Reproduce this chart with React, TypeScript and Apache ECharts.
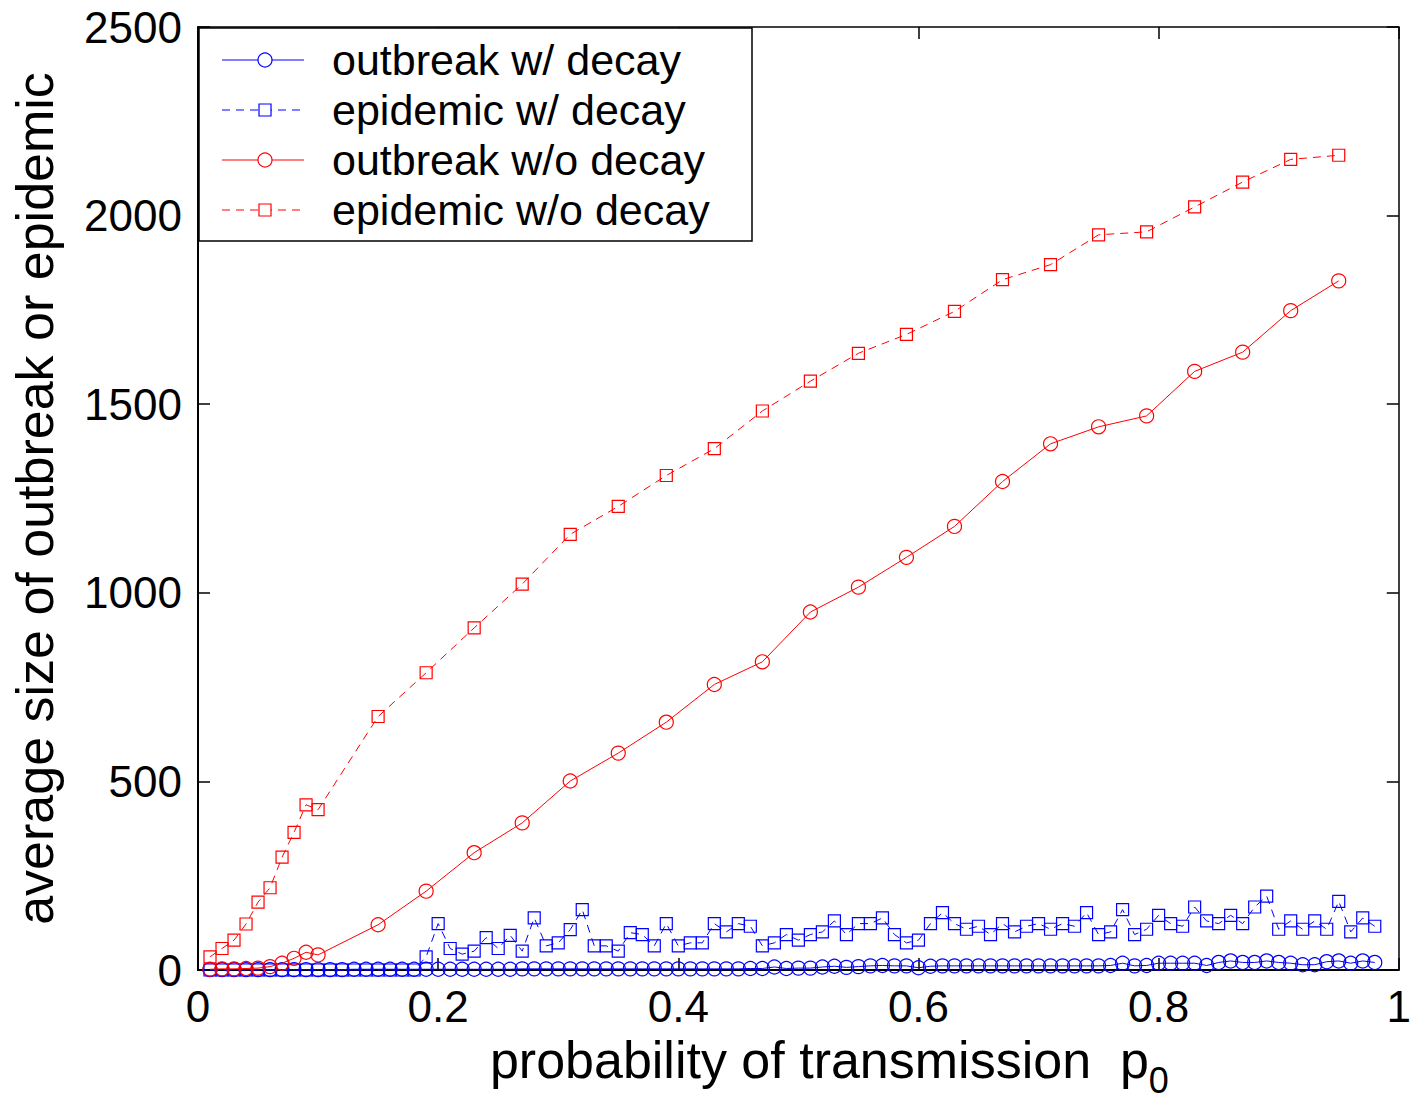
import React, { useEffect, useRef } from "react";
import * as echarts from "echarts";

// probability of transmission for the "with decay" runs
const pDecay = [
  0.01, 0.02, 0.03, 0.04, 0.05, 0.06, 0.07, 0.08, 0.09, 0.1,
  0.11, 0.12, 0.13, 0.14, 0.15, 0.16, 0.17, 0.18, 0.19, 0.2,
  0.21, 0.22, 0.23, 0.24, 0.25, 0.26, 0.27, 0.28, 0.29, 0.3,
  0.31, 0.32, 0.33, 0.34, 0.35, 0.36, 0.37, 0.38, 0.39, 0.4,
  0.41, 0.42, 0.43, 0.44, 0.45, 0.46, 0.47, 0.48, 0.49, 0.5,
  0.51, 0.52, 0.53, 0.54, 0.55, 0.56, 0.57, 0.58, 0.59, 0.6,
  0.61, 0.62, 0.63, 0.64, 0.65, 0.66, 0.67, 0.68, 0.69, 0.7,
  0.71, 0.72, 0.73, 0.74, 0.75, 0.76, 0.77, 0.78, 0.79, 0.8,
  0.81, 0.82, 0.83, 0.84, 0.85, 0.86, 0.87, 0.88, 0.89, 0.9,
  0.91, 0.92, 0.93, 0.94, 0.95, 0.96, 0.97, 0.98,
];

const outbreakDecay = [
  1, 1, 1, 1, 1, 1, 1, 1, 1, 1,
  1, 1, 2, 2, 2, 2, 2, 2, 2, 2,
  2, 2, 2, 2, 2, 2, 3, 3, 3, 3,
  3, 3, 3, 3, 3, 3, 3, 3, 3, 3,
  3, 3, 3, 3, 3, 4, 4, 8, 4, 5,
  5, 8, 10, 7, 9, 11, 12, 11, 11, 6,
  10, 11, 11, 11, 11, 11, 11, 11, 11, 11,
  11, 11, 11, 11, 11, 12, 18, 11, 12, 18,
  18, 18, 18, 12, 20, 24, 20, 20, 24, 20,
  18, 14, 14, 22, 24, 18, 24, 20,
];

const epidemicDecay = [
  0, 0, 0, 0, 0, 0, 0, 0, 0, 0,
  0, 0, 0, 0, 0, 0, 0, 0, 35, 123,
  57, 42, 50, 86, 57, 92, 50, 138, 64, 72,
  107, 160, 64, 64, 50, 99, 94, 64, 123, 64,
  72, 72, 123, 101, 123, 116, 64, 72, 94, 79,
  94, 101, 130, 94, 123, 123, 138, 94, 72, 79,
  123, 152, 123, 108, 116, 94, 123, 101, 116, 123,
  108, 123, 116, 152, 94, 101, 160, 94, 108, 145,
  123, 116, 167, 130, 123, 145, 123, 167, 196, 108,
  130, 108, 130, 108, 182, 101, 138, 116,
];

// probability of transmission for the "without decay" runs
const pNoDecay = [
  0.01, 0.02, 0.03, 0.04, 0.05, 0.06, 0.07, 0.08, 0.09, 0.1,
  0.15, 0.19, 0.23, 0.27, 0.31, 0.35, 0.39, 0.43, 0.47, 0.51,
  0.55, 0.59, 0.63, 0.67, 0.71, 0.75, 0.79, 0.83, 0.87, 0.91, 0.95,
];

const outbreakNoDecay = [
  2, 3, 3, 4, 5, 9, 18, 31, 47, 40,
  120, 209, 311, 390, 501, 575, 657, 757, 817, 949,
  1015, 1094, 1176, 1295, 1395, 1440, 1469, 1587, 1638, 1748, 1827,
];

const epidemicNoDecay = [
  35, 57, 79, 122, 180, 218, 299, 365, 438, 425,
  672, 788, 907, 1023, 1155, 1229, 1311, 1382, 1482, 1561,
  1635, 1685, 1746, 1830, 1870, 1949, 1957, 2023, 2089, 2149, 2160,
];

const xTicks = [0, 0.2, 0.4, 0.6, 0.8, 1];
const yTicks = [0, 500, 1000, 1500, 2000, 2500];

const legendNames = [
  "outbreak w/ decay",
  "epidemic w/ decay",
  "outbreak w/o decay",
  "epidemic w/o decay",
];

const FONT = '"Liberation Sans", Arial, sans-serif';
const BLUE = "#0000ff";
const RED = "#ff0000";

function zip(xs: number[], ys: number[]) {
  return xs.map((x, i) => [x, ys[i]]);
}

export default function App() {
  const ref = useRef<HTMLDivElement>(null);

  useEffect(() => {
    if (!ref.current) return;
    const chart = echarts.init(ref.current, null, { renderer: "svg" });

    const mkSeries = (
      name: string,
      xs: number[],
      ys: number[],
      color: string,
      symbol: string,
      size: number,
      dashed: boolean,
      z: number
    ) => ({
      name,
      type: "line",
      data: zip(xs, ys),
      symbol,
      symbolSize: size,
      showAllSymbol: true,
      clip: false,
      z,
      lineStyle: { color, width: 1, type: dashed ? [8, 6] : "solid" },
      itemStyle: { color: "rgba(0,0,0,0)", borderColor: color, borderWidth: 1.2 },
      emphasis: { disabled: true },
    });

    const legendChildren: any[] = [
      {
        type: "rect",
        shape: { x: 199, y: 28, width: 553, height: 213 },
        style: { fill: "#fff", stroke: "#000", lineWidth: 1.5 },
        z: 100,
      },
    ];
    const legendColors = [BLUE, BLUE, RED, RED];
    const legendDashed = [false, true, false, true];
    const legendSymbols = ["circle", "rect", "circle", "rect"];
    legendNames.forEach((nm, i) => {
      const cy = 60 + i * 50;
      const c = legendColors[i];
      legendChildren.push({
        type: "line",
        shape: { x1: 222, y1: cy, x2: 304, y2: cy },
        style: { stroke: c, lineWidth: 1, lineDash: legendDashed[i] ? [8, 6] : null },
        z: 101,
      });
      if (legendSymbols[i] === "circle") {
        legendChildren.push({
          type: "circle",
          shape: { cx: 265, cy, r: 7 },
          style: { fill: "#fff", stroke: c, lineWidth: 1.2 },
          z: 102,
        });
      } else {
        legendChildren.push({
          type: "rect",
          shape: { x: 259, y: cy - 6, width: 12, height: 12 },
          style: { fill: "#fff", stroke: c, lineWidth: 1.2 },
          z: 102,
        });
      }
      legendChildren.push({
        type: "text",
        x: 332,
        y: cy,
        style: {
          text: nm,
          fontSize: 43,
          fontFamily: FONT,
          fill: "#000",
          verticalAlign: "middle",
          align: "left",
        },
        z: 102,
      });
    });

    const option: any = {
      animation: false,
      backgroundColor: "#fff",
      grid: { left: 198, right: 10, top: 27, bottom: 128, containLabel: false },
      xAxis: [
        {
          type: "value",
          min: 0,
          max: 1,
          interval: 0.2,
          position: "bottom",
          axisLine: { show: true, onZero: false, lineStyle: { color: "#000", width: 2 } },
          axisTick: { show: true, inside: true, length: 12, lineStyle: { color: "#000", width: 1.5 } },
          axisLabel: {
            color: "#000",
            fontSize: 44,
            fontFamily: FONT,
            margin: 14,
            formatter: (v: number) => String(xTicks.find((t) => Math.abs(t - v) < 1e-9) ?? v),
          },
          splitLine: { show: false },
          name: "{a|probability of transmission  p}{s|0}",
          nameLocation: "middle",
          nameGap: 64,
          nameTextStyle: {
            padding: [0, 0, 0, 62],
            rich: {
              a: { fontSize: 52, fontFamily: FONT, color: "#000", verticalAlign: "bottom", padding: [0, 0, 12, 0] },
              s: { fontSize: 36, fontFamily: FONT, color: "#000", verticalAlign: "bottom" },
            },
          },
        },
        {
          type: "value",
          min: 0,
          max: 1,
          interval: 0.2,
          position: "top",
          axisLine: { show: true, onZero: false, lineStyle: { color: "#000", width: 1.5 } },
          axisTick: { show: true, inside: true, length: 12, lineStyle: { color: "#000", width: 1.5 } },
          axisLabel: { show: false },
          splitLine: { show: false },
        },
      ],
      yAxis: [
        {
          type: "value",
          min: 0,
          max: 2500,
          interval: 500,
          position: "left",
          axisLine: { show: true, onZero: false, lineStyle: { color: "#000", width: 2 } },
          axisTick: { show: true, inside: true, length: 12, lineStyle: { color: "#000", width: 1.5 } },
          axisLabel: {
            color: "#000",
            fontSize: 44,
            fontFamily: FONT,
            margin: 16,
            formatter: (v: number) => String(yTicks.find((t) => t === v) ?? v),
          },
          splitLine: { show: false },
          name: "average size of outbreak or epidemic",
          nameLocation: "middle",
          nameGap: 137,
          nameTextStyle: { fontSize: 52, fontFamily: FONT, color: "#000" },
        },
        {
          type: "value",
          min: 0,
          max: 2500,
          interval: 500,
          position: "right",
          axisLine: { show: true, onZero: false, lineStyle: { color: "#000", width: 1.5 } },
          axisTick: { show: true, inside: true, length: 12, lineStyle: { color: "#000", width: 1.5 } },
          axisLabel: { show: false },
          splitLine: { show: false },
        },
      ],
      series: [
        mkSeries(legendNames[0], pDecay, outbreakDecay, BLUE, "circle", 14, false, 2),
        mkSeries(legendNames[1], pDecay, epidemicDecay, BLUE, "rect", 12, true, 3),
        mkSeries(legendNames[2], pNoDecay, outbreakNoDecay, RED, "circle", 14, false, 4),
        mkSeries(legendNames[3], pNoDecay, epidemicNoDecay, RED, "rect", 12, true, 5),
      ],
      graphic: [{ type: "group", children: legendChildren }],
    };

    chart.setOption(option);
    return () => chart.dispose();
  }, []);

  return (
    <div
      ref={ref}
      style={{ position: "fixed", left: 0, top: 0, width: 1414, height: 1103, background: "#fff" }}
    />
  );
}
